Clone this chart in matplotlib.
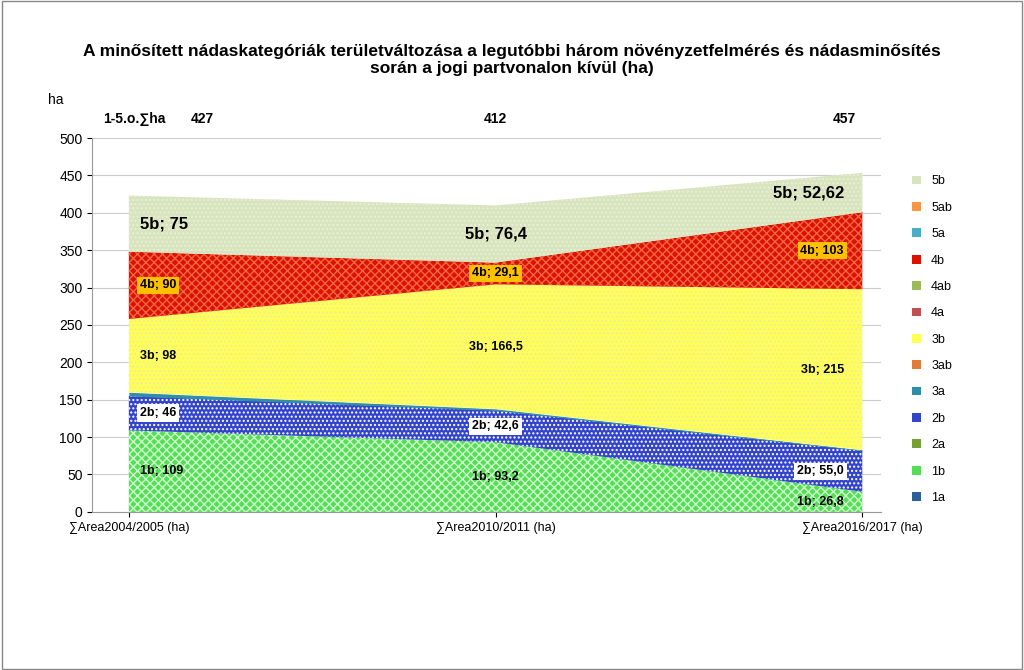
import matplotlib.pyplot as plt
from matplotlib.patches import Patch

plt.rcParams["font.family"] = "Liberation Sans"

# ---------------- DATA ----------------
periods = ["∑Area2004/2005 (ha)", "∑Area2010/2011 (ha)", "∑Area2016/2017 (ha)"]
totals = [427, 412, 457]
cats = ["1a", "1b", "2a", "2b", "3a", "3ab", "3b", "4a", "4ab", "4b", "5a", "5ab", "5b"]
values = {
    "1a": [0, 0, 0],
    "1b": [109, 93.2, 26.8],
    "2a": [0, 0, 0],
    "2b": [46, 42.6, 55.0],
    "3a": [5, 2, 1],
    "3ab": [0, 0, 0],
    "3b": [98, 166.5, 215],
    "4a": [0, 0, 0],
    "4ab": [0, 0, 0],
    "4b": [90, 29.1, 103],
    "5a": [0, 0, 0],
    "5ab": [0, 0, 0],
    "5b": [75, 76.4, 52.62],
}
labels = {
    "1b": ["1b; 109", "1b; 93,2", "1b; 26,8"],
    "2b": ["2b; 46", "2b; 42,6", "2b; 55,0"],
    "3b": ["3b; 98", "3b; 166,5", "3b; 215"],
    "4b": ["4b; 90", "4b; 29,1", "4b; 103"],
    "5b": ["5b; 75", "5b; 76,4", "5b; 52,62"],
}

colors = {
    "1a": "#2f5f98", "1b": "#55dd55", "2a": "#77a033", "2b": "#3344cc",
    "3a": "#2f8fa8", "3ab": "#e07b39", "3b": "#ffff55", "4a": "#c0504d",
    "4ab": "#9bbb59", "4b": "#dd1100", "5a": "#4bacc6", "5ab": "#f79646",
    "5b": "#d7e4bd",
}
hatches = {"1b": "xxxx", "2b": "....", "3b": "....", "4b": "xxxx", "5b": "...."}
hcolors = {"1b": "#ccffcc", "2b": "white", "3b": "#eeee99", "4b": "#ee6644", "5b": "#e8f0d8"}

x = [0, 1, 2]
fig = plt.figure(figsize=(10.24, 6.7), dpi=100)
fig.patches.append(plt.Rectangle((0.002, 0.002), 0.996, 0.996, transform=fig.transFigure,
                                 fill=False, edgecolor="#888888", lw=1))
ax = fig.add_axes([0.09, 0.236, 0.77, 0.558])

bottom = [0, 0, 0]
mids = {}
for c in cats:
    top = [b + v for b, v in zip(bottom, values[c])]
    if any(values[c]):
        plt.rcParams["hatch.color"] = hcolors.get(c, colors[c])
        ax.fill_between(x, bottom, top, facecolor=colors[c], hatch=hatches.get(c, None),
                        edgecolor=hcolors.get(c, colors[c]), linewidth=0)
    mids[c] = [(b + t) / 2 for b, t in zip(bottom, top)]
    bottom = top

for c, labs in labels.items():
    for i, lab in enumerate(labs):
        xi = [0.03, 1.0, 1.95][i]
        ha = ["left", "center", "right"][i]
        if c == "4b":
            ax.text(xi, mids[c][i], lab, ha=ha, va="center", fontsize=9, fontweight="bold",
                    bbox=dict(facecolor="#ffc000", edgecolor="none", pad=2))
        elif c == "2b":
            ax.text(xi, mids[c][i], lab, ha=ha, va="center", fontsize=9, fontweight="bold",
                    bbox=dict(facecolor="white", edgecolor="none", pad=2))
        else:
            fs = 12 if c == "5b" else 9
            ax.text(xi, mids[c][i], lab, ha=ha, va="center", fontsize=fs, fontweight="bold")

ax.set_xlim(-0.1, 2.05)
ax.set_ylim(0, 500)
ax.set_yticks(range(0, 501, 50))
ax.set_xticks(x)
ax.set_xticklabels(periods, fontsize=9)
ax.tick_params(axis="y", labelsize=10)
ax.grid(axis="y", color="#cccccc", lw=0.8)
ax.set_axisbelow(True)
for s in ["top", "right"]:
    ax.spines[s].set_visible(False)
ax.spines["left"].set_color("#999999")
ax.spines["bottom"].set_color("#999999")

ax.text(-0.2, 545, "ha", fontsize=10, ha="center")
ax.text(0.1, 520, "1-5.o.∑ha", fontsize=10, fontweight="bold", ha="right")
for xi, t in zip([0.2, 1.0, 1.95], totals):
    ax.text(xi, 520, str(t), fontsize=10, fontweight="bold", ha="center")

fig.suptitle("A minősített nádaskategóriák területváltozása a legutóbbi három növényzetfelmérés és nádasminősítés\n"
             "során a jogi partvonalon kívül (ha)", y=0.935, fontsize=12.5, fontweight="bold")

handles = [Patch(facecolor=colors[c], label=c) for c in reversed(cats)]
fig.legend(handles=handles, loc="upper left", bbox_to_anchor=(0.88, 0.755), frameon=False,
           fontsize=9, handlelength=0.7, handleheight=0.7, labelspacing=1.15)

fig.savefig("out.png", dpi=100)
